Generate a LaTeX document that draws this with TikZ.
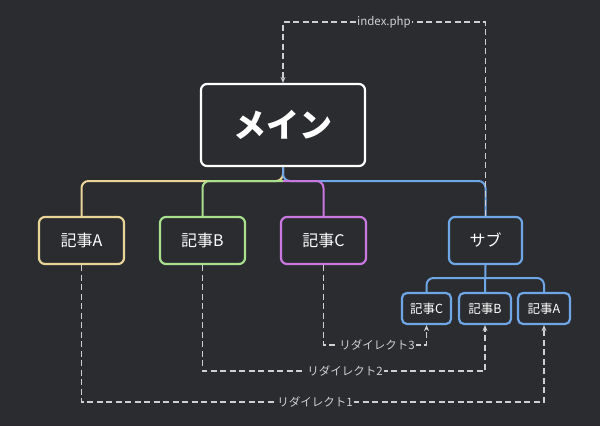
\documentclass[tikz,border=0pt]{standalone}
\usepackage{fontspec}
\setmainfont{Noto Sans CJK JP}
\usetikzlibrary{arrows.meta}
\definecolor{bg}{HTML}{2B2C30}
\definecolor{cy}{HTML}{E8D597}
\definecolor{cg}{HTML}{A8E08E}
\definecolor{cp}{HTML}{C978E0}
\definecolor{cb}{HTML}{6FA6E6}
\definecolor{dl}{HTML}{D0D0D0}
\begin{document}
\begin{tikzpicture}[x=1pt,y=-1pt,
  box/.style={draw,line width=2.2pt,rounded corners=6pt,fill=bg,text=white,font=\fontsize{16}{18}\selectfont,minimum height=47pt,inner sep=0pt},
  sbox/.style={draw=cb,line width=2.2pt,rounded corners=5pt,fill=bg,text=white,font=\fontsize{12.5}{14}\selectfont,minimum height=31pt,inner sep=0pt},
  tree/.style={line width=2pt,rounded corners=7pt},
  dashl/.style={draw=dl,line width=1.1pt,dash pattern=on 6pt off 3.5pt},
  lab/.style={fill=bg,text=dl,font=\fontsize{11.5}{13}\selectfont,inner sep=1.5pt},
  arr/.style={-{Stealth[length=6pt,width=5pt]}}]
\fill[bg] (0,0) rectangle (600,426);
\node[box,draw=white,minimum width=164pt,minimum height=82pt,font=\fontsize{33}{38}\selectfont\bfseries] (main) at (283,125) {メイン};
\node[box,draw=cy,minimum width=85pt] (a) at (81.5,240.5) {記事A};
\node[box,draw=cg,minimum width=85pt] (b) at (202.5,240.5) {記事B};
\node[box,draw=cp,minimum width=85pt] (c) at (323.5,240.5) {記事C};
\node[box,draw=cb,minimum width=73pt] (s) at (485.5,240.5) {サブ};
\node[sbox,minimum width=49pt] (sc) at (426.5,308.5) {記事C};
\node[sbox,minimum width=52pt] (sb) at (485,308.5) {記事B};
\node[sbox,minimum width=52pt] (sa) at (544,308.5) {記事A};
% tree
\draw[tree,cy] (main.south) -- (283,181) -- (81.5,181) -- (a.north);
\draw[tree,cg] (283,181) -- (202.5,181) -- (b.north);
\draw[tree,cb] (main.south) -- (283,181) -- (485.5,181) -- (s.north);
\draw[tree,cp] (283,181) -- (323.5,181) -- (c.north);
\draw[tree,cb] (s.south) -- (sb.north);
\draw[tree,cb] (485,278) -- (426.5,278) -- (sc.north);
\draw[tree,cb] (485,278) -- (544,278) -- (sa.north);
% index.php
\coordinate (t1) at (485.5,22);
\coordinate (t2) at (283,22);
\draw[dashl,arr] (s.north) -- (t1) -- (t2) -- (main.north);
\node[lab] (ip) at (384,22) {index.php};
% redirects
\coordinate (r3a) at (323.5,345); \coordinate (r3b) at (426.5,345);
\draw[dashl,arr] (c.south) -- (r3a) -- (r3b) -- (sc.south);
\node[lab] at (377,345) {リダイレクト3};
\coordinate (r2a) at (202.5,371); \coordinate (r2b) at (485,371);
\draw[dashl,arr] (b.south) -- (r2a) -- (r2b) -- (sb.south);
\node[lab] at (345,371) {リダイレクト2};
\coordinate (r1a) at (81.5,402); \coordinate (r1b) at (544,402);
\draw[dashl,arr] (a.south) -- (r1a) -- (r1b) -- (sa.south);
\node[lab] at (315,402) {リダイレクト1};
\end{tikzpicture}
\end{document}
